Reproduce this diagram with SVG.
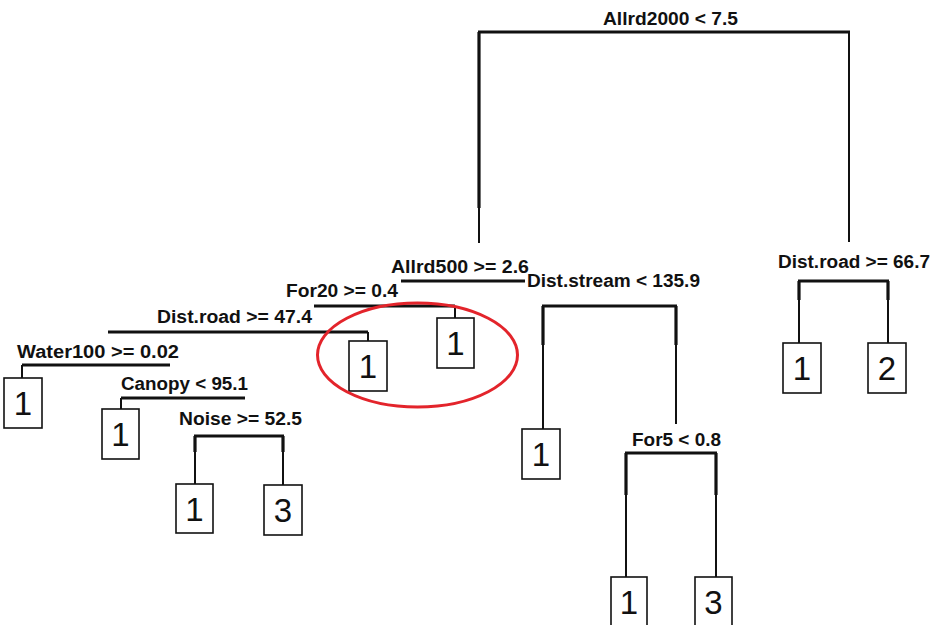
<svg xmlns="http://www.w3.org/2000/svg" width="935" height="625" viewBox="0 0 935 625">
<style>
.lbl{font-family:"Liberation Sans",Arial,sans-serif;font-weight:bold;font-size:17.5px;fill:#111}
.leaf rect{fill:#fff;stroke:#111;stroke-width:1.6}
.leaf text{font-family:"Liberation Sans",Arial,sans-serif;font-size:33px;fill:#111;text-anchor:middle}
.h{stroke:#111;stroke-width:3;fill:none}
.v{stroke:#111;stroke-width:3.2;fill:none}
.t{stroke:#111;stroke-width:2;fill:none}
</style>
<rect width="935" height="625" fill="#fff"/>
<g id="connectors">
<path class="h" d="M478 32H850"/>
<path class="v" d="M479 32V208"/><path class="t" d="M479 208V243"/>
<path class="t" d="M849 32V242"/>
<path class="h" d="M401 281H525"/>
<path class="h" d="M314 306H455"/>
<path class="t" d="M455 306V318"/>
<path class="h" d="M108 332H368"/>
<path class="t" d="M368 332V341"/>
<path class="h" d="M22 365H170"/>
<path class="t" d="M22 365V378"/>
<path class="h" d="M121 398H245"/>
<path class="t" d="M121 398V409"/>
<path class="h" d="M194 436H284"/>
<path class="v" d="M195 436V452"/><path class="t" d="M195 452V484"/>
<path class="v" d="M283 436V452"/><path class="t" d="M283 452V485"/>
<path class="h" d="M542 306H677"/>
<path class="v" d="M543 306V345"/><path class="t" d="M543 345V429"/>
<path class="v" d="M676 306V345"/><path class="t" d="M676 345V424"/>
<path class="h" d="M798 281H889"/>
<path class="v" d="M799 281V300"/><path class="t" d="M799 300V343"/>
<path class="v" d="M888 281V300"/><path class="t" d="M888 300V343"/>
<path class="h" d="M625 453H717"/>
<path class="v" d="M626 453V495"/><path class="t" d="M626 495V577"/>
<path class="v" d="M716 453V495"/><path class="t" d="M716 495V577"/>
</g>
<g id="labels">
<text id="n-allrd2000" class="lbl" x="603" y="25" textLength="135" lengthAdjust="spacingAndGlyphs">Allrd2000 &lt; 7.5</text>
<text id="n-allrd500" class="lbl" x="391" y="273" textLength="138" lengthAdjust="spacingAndGlyphs">Allrd500 &gt;= 2.6</text>
<text id="n-for20" class="lbl" x="286" y="297" textLength="112" lengthAdjust="spacingAndGlyphs">For20 &gt;= 0.4</text>
<text id="n-distroad47" class="lbl" x="157" y="323" textLength="155" lengthAdjust="spacingAndGlyphs">Dist.road &gt;= 47.4</text>
<text id="n-water100" class="lbl" x="17" y="358" textLength="162" lengthAdjust="spacingAndGlyphs">Water100 &gt;= 0.02</text>
<text id="n-canopy" class="lbl" x="121" y="390" textLength="127" lengthAdjust="spacingAndGlyphs">Canopy &lt; 95.1</text>
<text id="n-noise" class="lbl" x="179" y="425" textLength="123" lengthAdjust="spacingAndGlyphs">Noise &gt;= 52.5</text>
<text id="n-diststream" class="lbl" x="527" y="287" textLength="173" lengthAdjust="spacingAndGlyphs">Dist.stream &lt; 135.9</text>
<text id="n-distroad66" class="lbl" x="778" y="268" textLength="152" lengthAdjust="spacingAndGlyphs">Dist.road &gt;= 66.7</text>
<text id="n-for5" class="lbl" x="632" y="446" textLength="89" lengthAdjust="spacingAndGlyphs">For5 &lt; 0.8</text>
</g>
<g id="leafA" class="leaf"><rect x="4" y="378" width="38" height="50"/><text x="23" y="415">1</text></g>
<g id="leafB" class="leaf"><rect x="102" y="409" width="37" height="50"/><text x="120.5" y="446">1</text></g>
<g id="leafC" class="leaf"><rect x="176" y="484" width="37" height="49"/><text x="194.5" y="521">1</text></g>
<g id="leafD" class="leaf"><rect x="264" y="485" width="38" height="50"/><text x="283" y="522">3</text></g>
<g id="leafE" class="leaf"><rect x="349" y="341" width="38" height="50"/><text x="368" y="378">1</text></g>
<g id="leafF" class="leaf"><rect x="437" y="318" width="37" height="50"/><text x="455.5" y="355">1</text></g>
<g id="leafG" class="leaf"><rect x="522" y="429" width="38" height="50"/><text x="541" y="466">1</text></g>
<g id="leafH" class="leaf"><rect x="611" y="577" width="36" height="55"/><text x="629" y="614">1</text></g>
<g id="leafI" class="leaf"><rect x="695" y="577" width="37" height="55"/><text x="713.5" y="614">3</text></g>
<g id="leafJ" class="leaf"><rect x="783" y="343" width="38" height="50"/><text x="802" y="380">1</text></g>
<g id="leafK" class="leaf"><rect x="868" y="343" width="38" height="50"/><text x="887" y="380">2</text></g>
<g id="highlight"><ellipse cx="417.5" cy="355" rx="100" ry="52" fill="none" stroke="#e3242b" stroke-width="3"/></g>
</svg>
